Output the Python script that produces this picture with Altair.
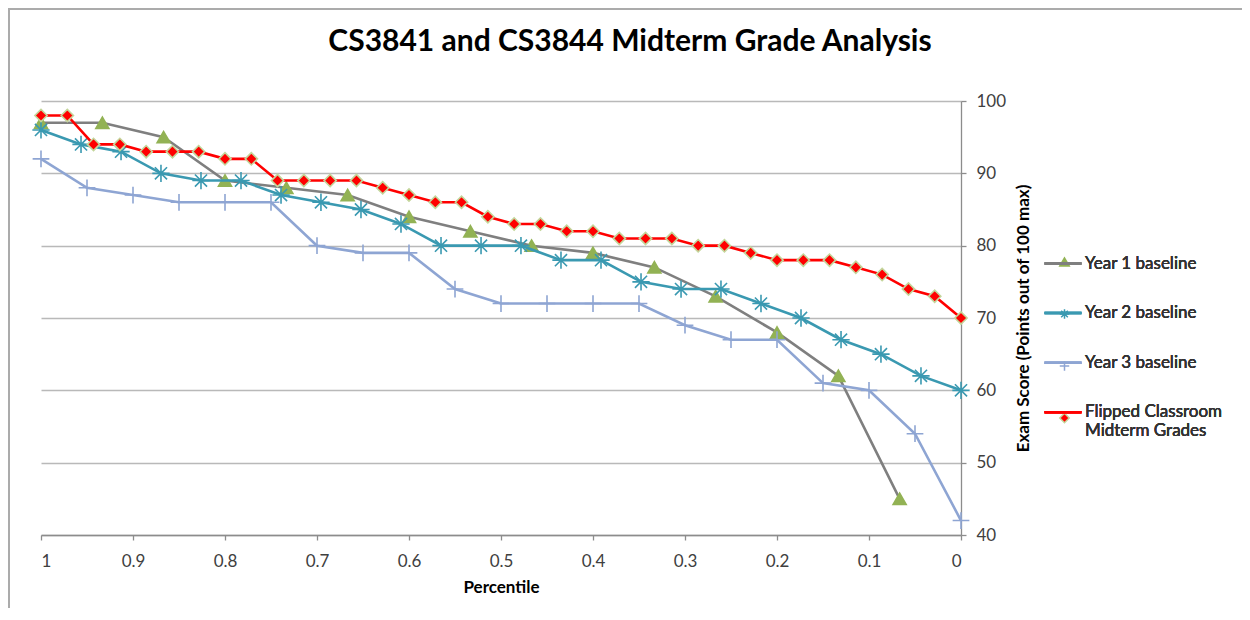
import altair as alt
import pandas as pd

series_names = ["Year 1 baseline", "Year 2 baseline", "Year 3 baseline",
                "Flipped Classroom Midterm Grades"]

y1_pct = [1, 0.9333, 0.8667, 0.8, 0.7333, 0.6667, 0.6, 0.5333, 0.4667, 0.4,
          0.3333, 0.2667, 0.2, 0.1333, 0.0667]
y1_score = [97, 97, 95, 89, 88, 87, 84, 82, 80, 79, 77, 73, 68, 62, 45]

y2_pct = [1, 0.9565, 0.9130, 0.8696, 0.8261, 0.7826, 0.7391, 0.6957, 0.6522,
          0.6087, 0.5652, 0.5217, 0.4783, 0.4348, 0.3913, 0.3478, 0.3043,
          0.2609, 0.2174, 0.1739, 0.1304, 0.0870, 0.0435, 0]
y2_score = [96, 94, 93, 90, 89, 89, 87, 86, 85, 83, 80, 80, 80, 78, 78, 75, 74,
            74, 72, 70, 67, 65, 62, 60]

y3_pct = [1, 0.95, 0.9, 0.85, 0.8, 0.75, 0.7, 0.65, 0.6, 0.55, 0.5, 0.45, 0.4,
          0.35, 0.3, 0.25, 0.2, 0.15, 0.1, 0.05, 0]
y3_score = [92, 88, 87, 86, 86, 86, 80, 79, 79, 74, 72, 72, 72, 72, 69, 67, 67,
            61, 60, 54, 42]

fl_pct = [1, 0.9714, 0.9429, 0.9143, 0.8857, 0.8571, 0.8286, 0.8, 0.7714,
          0.7429, 0.7143, 0.6857, 0.6571, 0.6286, 0.6, 0.5714, 0.5429, 0.5143,
          0.4857, 0.4571, 0.4286, 0.4, 0.3714, 0.3429, 0.3143, 0.2857, 0.2571,
          0.2286, 0.2, 0.1714, 0.1429, 0.1143, 0.0857, 0.0571, 0.0286, 0]
fl_score = [98, 98, 94, 94, 93, 93, 93, 92, 92, 89, 89, 89, 89, 88, 87, 86, 86,
            84, 83, 83, 82, 82, 81, 81, 81, 80, 80, 79, 78, 78, 78, 77, 76, 74,
            73, 70]

x_ticks = [1, 0.9, 0.8, 0.7, 0.6, 0.5, 0.4, 0.3, 0.2, 0.1, 0]
y_ticks = [40, 50, 60, 70, 80, 90, 100]

rows = []
for name, xs, ys in zip(series_names, [y1_pct, y2_pct, y3_pct, fl_pct],
                        [y1_score, y2_score, y3_score, fl_score]):
    for xv, yv in zip(xs, ys):
        rows.append({"Series": name, "Marker": name, "Percentile": xv, "Score": yv})
df = pd.DataFrame(rows)

line_colors = ["#7F7F7F", "#3A99B1", "#8EA5D3", "#FF0000"]
marker_fill = ["#92B254", "rgba(0,0,0,0)", "rgba(0,0,0,0)", "#FF0000"]
marker_stroke = ["#92B254", "#3A99B1", "#8EA5D3", "#C3D69B"]
marker_shapes = [
    "triangle-up",
    "M-1,0L1,0M0,-1L0,1M-0.7,-0.7L0.7,0.7M-0.7,0.7L0.7,-0.7",
    "M-1,0L1,0M0,-1L0,1",
    "diamond",
]
marker_sizes = [170, 300, 280, 150]

FONT = "Lato"
LEG_FS = 17
label_expr = ("datum.label == 'Flipped Classroom Midterm Grades' ? "
              "['Flipped Classroom', 'Midterm Grades'] : datum.label")

legend_lines = alt.Legend(
    title=None, orient="none", legendX=1002, legendY=142.5, padding=0,
    symbolType="stroke", symbolSize=1369, symbolStrokeWidth=2.5,
    labelFont=FONT, labelFontSize=LEG_FS, labelFontWeight="normal",
    labelColor="#333333", labelOffset=2,
    labelLimit=400, rowPadding=21.6, labelExpr=label_expr,
)
legend_marks = alt.Legend(
    title=None, orient="none", legendX=1015, legendY=152.5, padding=0,
    symbolSize=90, symbolStrokeWidth=1.5, labelOpacity=0,
    labelColor="rgba(0,0,0,0)",
    labelFont=FONT, labelFontSize=LEG_FS, labelFontWeight="normal", labelOffset=2,
    labelLimit=400, rowPadding=34, labelExpr=label_expr,
)

x_enc = alt.X("Percentile:Q",
              scale=alt.Scale(domain=[0, 1], reverse=True, nice=False, zero=False),
              axis=alt.Axis(values=x_ticks, format="~g", title="Percentile",
                            grid=False))
y_enc = alt.Y("Score:Q", scale=alt.Scale(domain=[40, 100], nice=False, zero=False),
              axis=alt.Axis(orient="right", values=y_ticks,
                            title="Exam Score (Points out of 100 max)",
                            titleAngle=270, grid=True))

color_enc = alt.Color("Series:N",
                      scale=alt.Scale(domain=series_names, range=line_colors),
                      legend=legend_lines)
shape_enc = alt.Shape("Marker:N",
                      scale=alt.Scale(domain=series_names, range=marker_shapes),
                      legend=legend_marks)
fill_enc = alt.Fill("Marker:N",
                    scale=alt.Scale(domain=series_names, range=marker_fill),
                    legend=legend_marks)
stroke_enc = alt.Stroke("Marker:N",
                        scale=alt.Scale(domain=series_names, range=marker_stroke),
                        legend=legend_marks)

base = alt.Chart(df)
layers = []
for name, msize in zip(series_names, marker_sizes):
    sub = base.transform_filter(alt.datum.Series == name)
    layers.append(sub.mark_line(strokeWidth=2.6).encode(x=x_enc, y=y_enc, color=color_enc))
    layers.append(sub.mark_point(size=msize, strokeWidth=1.6, opacity=1).encode(
        x=x_enc, y=y_enc, shape=shape_enc, fill=fill_enc, stroke=stroke_enc))

frame = alt.Chart(pd.DataFrame({"f": [0]})).mark_rect(
    fill="transparent", stroke="#ababab", strokeWidth=2
).encode(x=alt.value(-32), x2=alt.value(1400), y=alt.value(-92), y2=alt.value(800))

chart = alt.layer(frame, *layers).resolve_scale(
    color="independent"
).properties(
    width=920, height=434,
    autosize=alt.AutoSizeParams(type="none"),
    padding={"left": 33, "top": 93, "right": 281, "bottom": 73},
    title=alt.TitleParams(
        "CS3841 and CS3844 Midterm Grade Analysis",
        font=FONT, fontSize=30, fontWeight="bold", color="#000000",
        anchor="middle", dx=129, offset=-64, baseline="middle",
    ),
).configure_view(stroke=None).configure_axis(
    labelFont=FONT, labelFontSize=17, labelColor="#404040",
    titleFont=FONT, titleFontSize=17, titleFontWeight="bold", titleColor="#000000",
    domainColor="#8c8c8c", domainWidth=1.3, tickColor="#8c8c8c", tickSize=5,
    tickWidth=1.3, gridColor="#b9b9b9", gridWidth=1.3,
).configure_axisX(
    labelPadding=13, titlePadding=10,
).configure_axisY(
    labelPadding=10, titlePadding=27, labelAlign="left", labelBaseline="middle",
)

chart.save("out.html", embed_options={"renderer": "svg", "actions": False})
